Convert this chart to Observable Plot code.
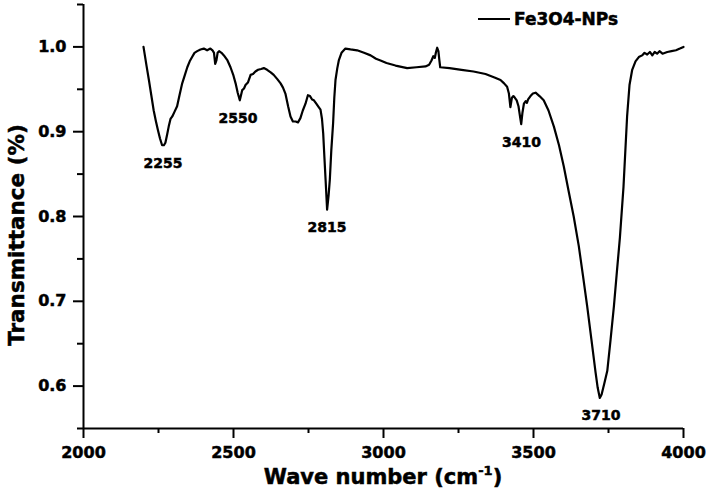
<!DOCTYPE html>
<html><head><meta charset="utf-8">
<script src="https://cdn.jsdelivr.net/npm/d3@7"></script>
<script src="https://cdn.jsdelivr.net/npm/@observablehq/plot@0.6"></script>
<style>body{margin:0;background:#fff;} svg{display:block;}</style>
</head><body><div id="chart"></div>
<script>
const wavenumber = [2200,2210,2218,2226,2234,2241,2248,2255,2262,2268,2273,2279,2284,2290,2296,2304,2312,2320,2329,2338,2346,2354,2362,2370,2379,2390,2401,2412,2423,2430,2435,2439,2443,2447,2452,2460,2468,2480,2490,2500,2507,2514,2521,2525,2529,2535,2540,2548,2557,2565,2573,2582,2592,2601,2612,2624,2634,2646,2657,2665,2673,2682,2690,2698,2707,2715,2723,2731,2740,2748,2755,2762,2768,2776,2784,2790,2795,2799,2803,2807,2812,2817,2821,2826,2832,2836,2840,2846,2851,2860,2873,2890,2912,2935,2957,2975,2990,3010,3040,3079,3110,3140,3152,3160,3166,3171,3175,3179,3183,3186,3189,3220,3260,3300,3340,3370,3390,3402,3412,3418,3423,3428,3433,3438,3444,3450,3455,3459,3463,3468,3474,3478,3482,3490,3498,3507,3520,3534,3550,3568,3585,3601,3617,3634,3651,3665,3679,3693,3707,3714,3721,3727,3736,3746,3757,3768,3778,3788,3800,3812,3820,3829,3840,3851,3862,3870,3879,3888,3896,3904,3912,3920,3930,3946,3960,3975,3988,4000];
const transmittance = [1.000,0.978,0.961,0.943,0.925,0.913,0.902,0.892,0.884,0.884,0.887,0.897,0.906,0.915,0.918,0.924,0.930,0.943,0.957,0.967,0.976,0.983,0.988,0.993,0.995,0.997,0.998,0.996,0.998,0.996,0.993,0.980,0.984,0.993,0.995,0.993,0.990,0.984,0.976,0.966,0.957,0.946,0.937,0.943,0.949,0.951,0.955,0.958,0.967,0.968,0.971,0.973,0.974,0.975,0.973,0.970,0.967,0.962,0.957,0.952,0.945,0.930,0.918,0.912,0.912,0.911,0.916,0.925,0.933,0.943,0.942,0.938,0.937,0.933,0.929,0.926,0.915,0.898,0.870,0.843,0.808,0.825,0.843,0.878,0.910,0.940,0.961,0.975,0.984,0.993,0.998,0.997,0.996,0.993,0.990,0.986,0.984,0.981,0.978,0.975,0.976,0.977,0.979,0.984,0.989,0.987,0.994,0.999,0.995,0.985,0.976,0.975,0.973,0.971,0.968,0.964,0.961,0.957,0.953,0.945,0.929,0.940,0.942,0.940,0.937,0.930,0.918,0.909,0.922,0.933,0.936,0.934,0.938,0.942,0.945,0.946,0.942,0.937,0.925,0.906,0.884,0.859,0.830,0.800,0.765,0.730,0.694,0.655,0.616,0.598,0.586,0.590,0.603,0.618,0.655,0.694,0.735,0.775,0.835,0.918,0.955,0.973,0.983,0.988,0.990,0.993,0.991,0.994,0.990,0.994,0.992,0.995,0.992,0.994,0.995,0.996,0.998,1.000];
const peakLabels = ["2255","2550","2815","3410","3710"];
const peakX = [2265,2515,2812,3460,3725];
const peakY = [0.884,0.937,0.808,0.909,0.586];
const xMajorTicks = [2000,2500,3000,3500,4000];
const xMinorTicks = [2250,2750,3250,3750];
const yMajorTicks = [0.6,0.7,0.8,0.9,1.0];
const yMinorTicks = [0.55,0.65,0.75,0.85,0.95,1.05];
const seriesName = "Fe3O4-NPs";
const xTitle = "Wave number (cm";
const xTitleSup = "-1";
const yTitle = "Transmittance (%)";

const spectrum = wavenumber.map((w, i) => ({w, t: transmittance[i]}));
const peaks = peakLabels.map((l, i) => ({label: l, x: peakX[i], y: peakY[i]}));
const font = "'DejaVu Sans', sans-serif";

const plot = Plot.plot({
  width: 708, height: 496,
  marginLeft: 83, marginRight: 25, marginTop: 4, marginBottom: 68,
  style: {fontFamily: font, fontWeight: "bold", background: "white", color: "black", overflow: "visible"},
  x: {domain: [2000, 4000], label: null},
  y: {domain: [0.55, 1.05], label: null},
  marks: [
    Plot.axisX(xMinorTicks, {tickSize: 5, strokeWidth: 2, tickFormat: () => "", label: null}),
    Plot.axisX(xMajorTicks, {tickSize: 10, tickPadding: 8, fontSize: 16, fontWeight: "bold", fontVariant: "normal", strokeWidth: 2, label: null, tickFormat: d => String(d)}),
    Plot.axisY(yMinorTicks, {tickSize: 6, strokeWidth: 2, tickFormat: () => "", label: null}),
    Plot.axisY(yMajorTicks, {tickSize: 10, tickPadding: 7, fontSize: 16, fontWeight: "bold", fontVariant: "normal", strokeWidth: 2, label: null, tickFormat: d => d.toFixed(1)}),
    Plot.ruleX([2000], {strokeWidth: 2}),
    Plot.ruleY([0.55], {strokeWidth: 2}),
    Plot.line(spectrum, {x: "w", y: "t", stroke: "black", strokeWidth: 2.2, strokeLinejoin: "round"}),
    Plot.text(peaks, {x: "x", y: "y", text: "label", dy: 18, fontSize: 14, fontWeight: "bold", fill: "black"})
  ]
});

const svg = d3.select(plot);
const xr = plot.scale("x").range;
const yr = plot.scale("y").range;
const xMid = (xr[0] + xr[1]) / 2;
const yMid = (yr[0] + yr[1]) / 2;

// x axis title with superscript
const xt = svg.append("text")
  .attr("x", xMid).attr("y", 484)
  .attr("text-anchor", "middle")
  .attr("font-size", 21)
  .attr("fill", "black");
xt.append("tspan").text(xTitle);
xt.append("tspan").attr("dy", -9).attr("font-size", 13).text(xTitleSup);
xt.append("tspan").attr("dy", 9).text(")");

// y axis title
svg.append("text")
  .attr("transform", `translate(23.5,${yMid + 19}) rotate(-90)`)
  .attr("text-anchor", "middle")
  .attr("font-size", 21.5)
  .attr("fill", "black")
  .text(yTitle);

// legend
const lg = svg.append("g");
lg.append("line").attr("x1", 478).attr("x2", 510).attr("y1", 19).attr("y2", 19)
  .attr("stroke", "black").attr("stroke-width", 2);
lg.append("text").attr("x", 514).attr("y", 25)
  .attr("text-anchor", "start")
  .attr("font-size", 17)
  .attr("fill", "black").text(seriesName);

// every text in bold DejaVu Sans, with a thin outline for the heavy look of the original
svg.selectAll("text")
  .style("font-family", font)
  .style("font-weight", "700")
  .style("font-variant", "normal")
  .style("stroke", "black")
  .style("stroke-width", "0.5px");

document.getElementById("chart").appendChild(plot);
</script>
</body></html>
